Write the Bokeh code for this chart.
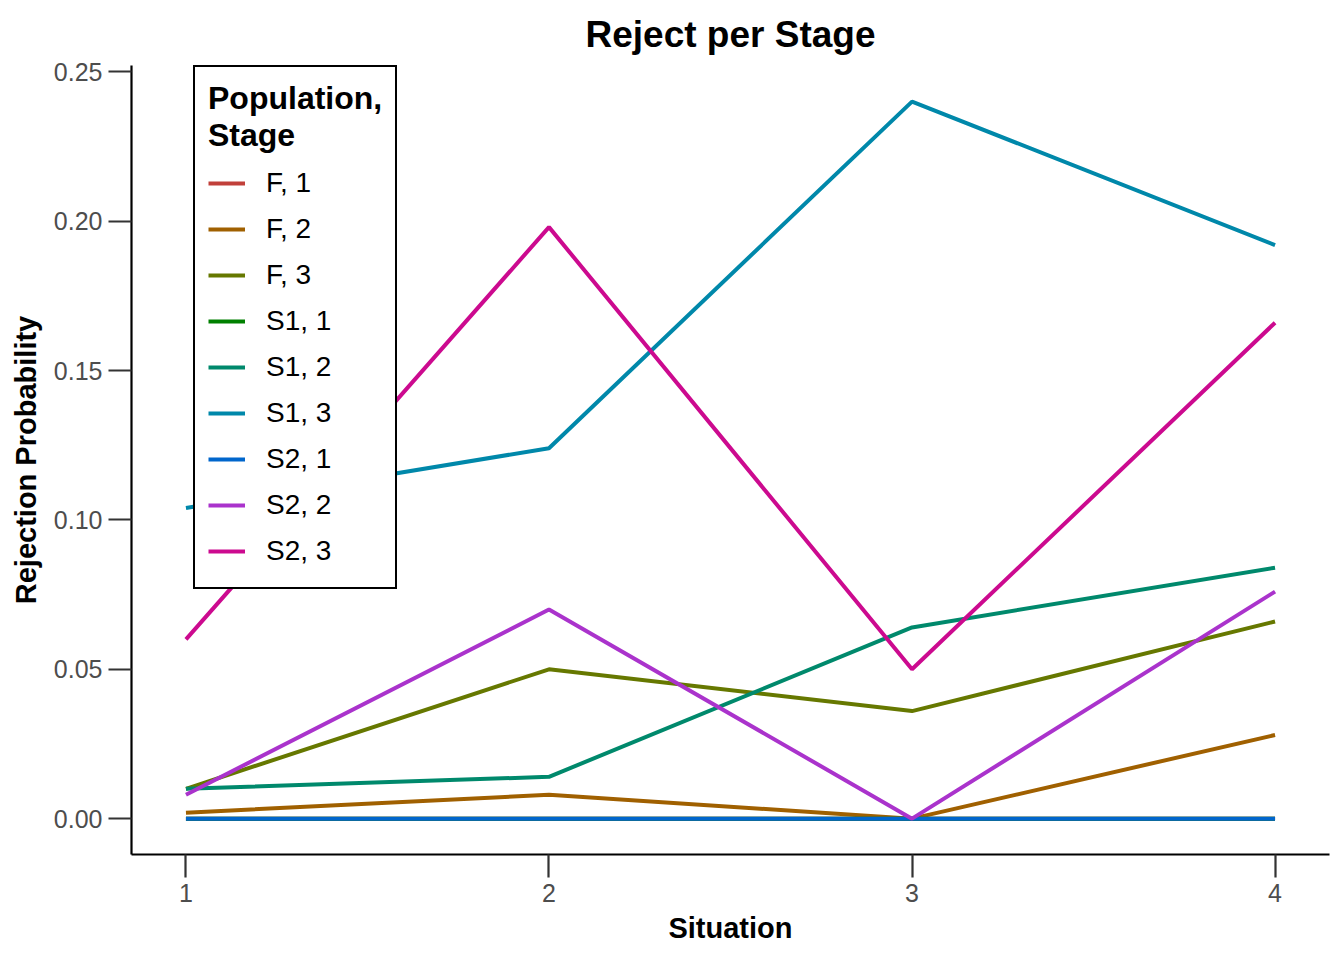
from bokeh.plotting import figure
from bokeh.models import Legend, LegendItem, Range1d, FixedTicker, PrintfTickFormatter
from bokeh.embed import file_html
from bokeh.resources import INLINE

situations = [1, 2, 3, 4]
series_names = ["F, 1", "F, 2", "F, 3", "S1, 1", "S1, 2", "S1, 3", "S2, 1", "S2, 2", "S2, 3"]
f_1 = [0.0, 0.0, 0.0, 0.0]
f_2 = [0.002, 0.008, 0.0, 0.028]
f_3 = [0.010, 0.050, 0.036, 0.066]
s1_1 = [0.0, 0.0, 0.0, 0.0]
s1_2 = [0.010, 0.014, 0.064, 0.084]
s1_3 = [0.104, 0.124, 0.240, 0.192]
s2_1 = [0.0, 0.0, 0.0, 0.0]
s2_2 = [0.008, 0.070, 0.0, 0.076]
s2_3 = [0.060, 0.198, 0.050, 0.166]
series_values = [f_1, f_2, f_3, s1_1, s1_2, s1_3, s2_1, s2_2, s2_3]
colors = ["#C1403A", "#A06000", "#667800", "#008000", "#00896C",
          "#0088AA", "#0066CC", "#AA33CC", "#CC0A8F"]
y_ticks = [0.0, 0.05, 0.10, 0.15, 0.20, 0.25]

FONT = "Liberation Sans"

p = figure(frame_width=1198, frame_height=789,
           min_border_left=131, min_border_right=8,
           min_border_top=65, min_border_bottom=98,
           x_range=Range1d(0.85, 4.15), y_range=Range1d(-0.012, 0.2521),
           output_backend="svg", toolbar_location=None,
           title="Reject per Stage")
p.outline_line_color = None
p.grid.visible = False
p.background_fill_color = "white"
p.border_fill_color = "white"

p.title.align = "center"
p.title.vertical_align = "bottom"
p.title.text_font = FONT
p.title.text_font_size = "37px"
p.title.text_font_style = "bold"
p.title.text_color = "black"
p.title.offset = 0
p.title.standoff = 22

for ax in (p.xaxis[0], p.yaxis[0]):
    ax.axis_line_color = "black"
    ax.axis_line_width = 2.2
    ax.major_tick_line_color = "#333333"
    ax.major_tick_line_width = 2.2
    ax.major_tick_out = 23
    ax.major_tick_in = 0
    ax.minor_tick_line_color = None
    ax.major_label_text_font = FONT
    ax.major_label_text_font_size = "25px"
    ax.major_label_text_color = "#4D4D4D"
    ax.major_label_standoff = 6
    ax.axis_label_text_font = FONT
    ax.axis_label_text_font_size = "29px"
    ax.axis_label_text_font_style = "bold"
    ax.axis_label_text_color = "black"

p.xaxis.ticker = FixedTicker(ticks=situations)
p.xaxis.axis_label = "Situation"
p.xaxis.axis_label_standoff = 7
p.yaxis.ticker = FixedTicker(ticks=y_ticks)
p.yaxis.formatter = PrintfTickFormatter(format="%.2f")
p.yaxis.axis_label = "Rejection Probability"
p.yaxis.axis_label_standoff = 9

items = []
for name, vals, col in zip(series_names, series_values, colors):
    r = p.line(situations, vals, line_width=4, line_color=col)
    items.append(LegendItem(label=name, renderers=[r]))

legend = Legend(items=items, location=(62, 265),
                title="Population,\nStage",
                title_text_font=FONT, title_text_font_size="32px",
                title_text_font_style="bold", title_text_color="black",
                title_text_line_height=1.1,
                title_standoff=6,
                label_text_font=FONT, label_text_font_size="28px",
                label_text_color="black",
                glyph_width=37, glyph_height=46, label_height=46,
                label_standoff=21, spacing=0, padding=13, margin=0,
                border_line_color="black", border_line_width=2,
                border_line_alpha=1.0,
                background_fill_color="white", background_fill_alpha=1.0)
p.add_layout(legend, "center")

open("out.html", "w").write(file_html(p, INLINE))
